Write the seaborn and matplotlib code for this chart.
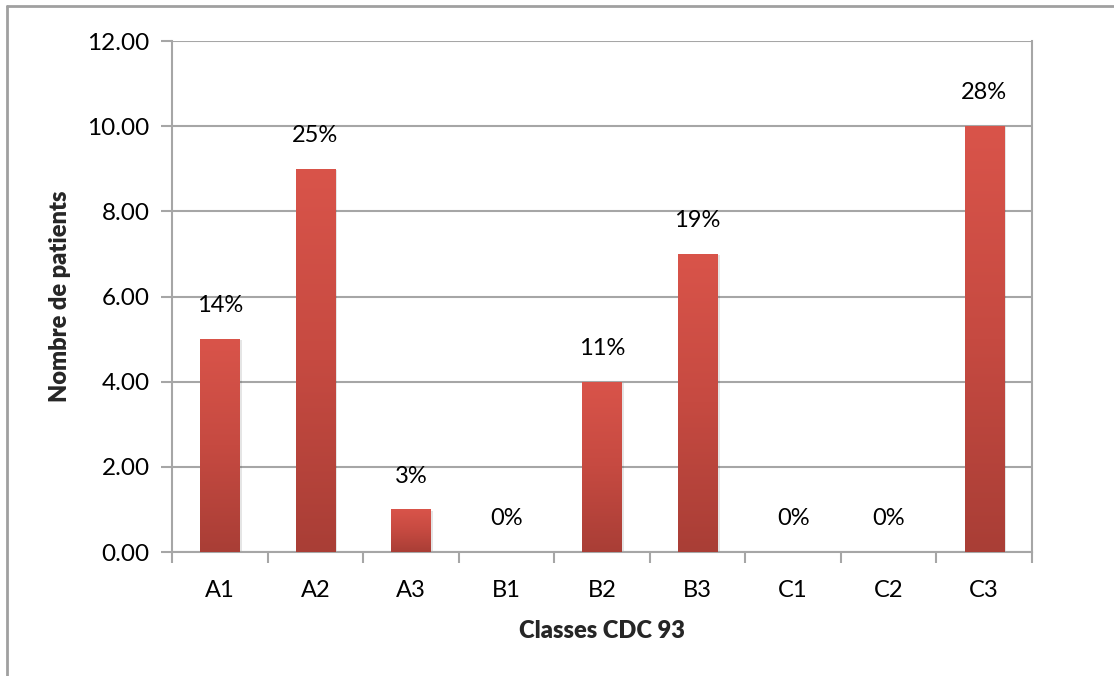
import numpy as np
import matplotlib
matplotlib.use('Agg')
import matplotlib.pyplot as plt
from matplotlib.lines import Line2D
from matplotlib.colors import LinearSegmentedColormap
import seaborn as sns

# data
classes = ['A1', 'A2', 'A3', 'B1', 'B2', 'B3', 'C1', 'C2', 'C3']
patients = [5, 9, 1, 0, 4, 7, 0, 0, 10]
pct_labels = ['14%', '25%', '3%', '0%', '11%', '19%', '0%', '0%', '28%']

sns.set_theme(style='white')
plt.rcParams['font.family'] = ['Lato', 'DejaVu Sans']

grid_col = '#a6a6a6'
fig = plt.figure(figsize=(11.14, 6.76), dpi=100)
ax = fig.add_axes([0.1544, 0.1834, 0.772, 0.7559])

sns.barplot(x=classes, y=patients, color='#c94a41', width=0.41, ax=ax,
            edgecolor='none', zorder=3)

# vertical gradient on each bar
grad_cmap = LinearSegmentedColormap.from_list('bar', ['#a93e36', '#c64a41', '#d9544a'])
grad = np.linspace(0, 1, 256).reshape(-1, 1)
for p in ax.patches:
    x0, w, h = p.get_x(), p.get_width(), p.get_height()
    if h <= 0:
        continue
    p.set_facecolor('none')
    # soft shadow
    ax.add_patch(plt.Rectangle((x0 + 0.025, 0), w, h - 0.03, facecolor='#000000',
                               alpha=0.10, edgecolor='none', zorder=2))
    im = ax.imshow(grad, cmap=grad_cmap, origin='lower', aspect='auto',
                   extent=[x0, x0 + w, 0, h], zorder=3)
    im.set_clip_path(p)

for i, (v, lab) in enumerate(zip(patients, pct_labels)):
    ax.annotate(lab, (i, v), xytext=(0, 24), textcoords='offset points',
                ha='center', va='center', fontsize=17, color='black')

ax.set_xlim(-0.5, len(classes) - 0.5)
ax.set_ylim(0, 12)
ax.set_yticks(np.arange(0, 12.01, 2))
ax.set_yticklabels([f'{t:.2f}' for t in np.arange(0, 12.01, 2)])
ax.yaxis.grid(True, color=grid_col, linewidth=1.5, zorder=0)
ax.set_axisbelow(True)

for s in ['left', 'right', 'bottom']:
    ax.spines[s].set_visible(True)
    ax.spines[s].set_color(grid_col)
    ax.spines[s].set_linewidth(1.5)
ax.spines['top'].set_visible(False)

ax.tick_params(axis='y', which='major', left=True, length=8, width=1.5, color=grid_col,
               labelsize=17.5, pad=8, labelcolor='black')
ax.set_xticks(np.arange(-0.5, len(classes)), minor=True)
ax.tick_params(axis='x', which='minor', bottom=True, length=8, width=1.5, color=grid_col)
ax.tick_params(axis='x', which='major', bottom=False, labelsize=17, pad=14, labelcolor='black')

ax.set_xlabel('Classes CDC 93', fontsize=17, fontweight='heavy', labelpad=14)
ax.set_ylabel('Nombre de patients', fontsize=17, fontweight='heavy', labelpad=12)

# outer chart border (left and top only visible)
fig.add_artist(Line2D([0.0063, 0.0063], [0, 0.9911], color='#a0a0a0', linewidth=2,
                      transform=fig.transFigure))
fig.add_artist(Line2D([0.0063, 1], [0.9911, 0.9911], color='#a0a0a0', linewidth=2,
                      transform=fig.transFigure))

fig.savefig('out.png', dpi=100)
